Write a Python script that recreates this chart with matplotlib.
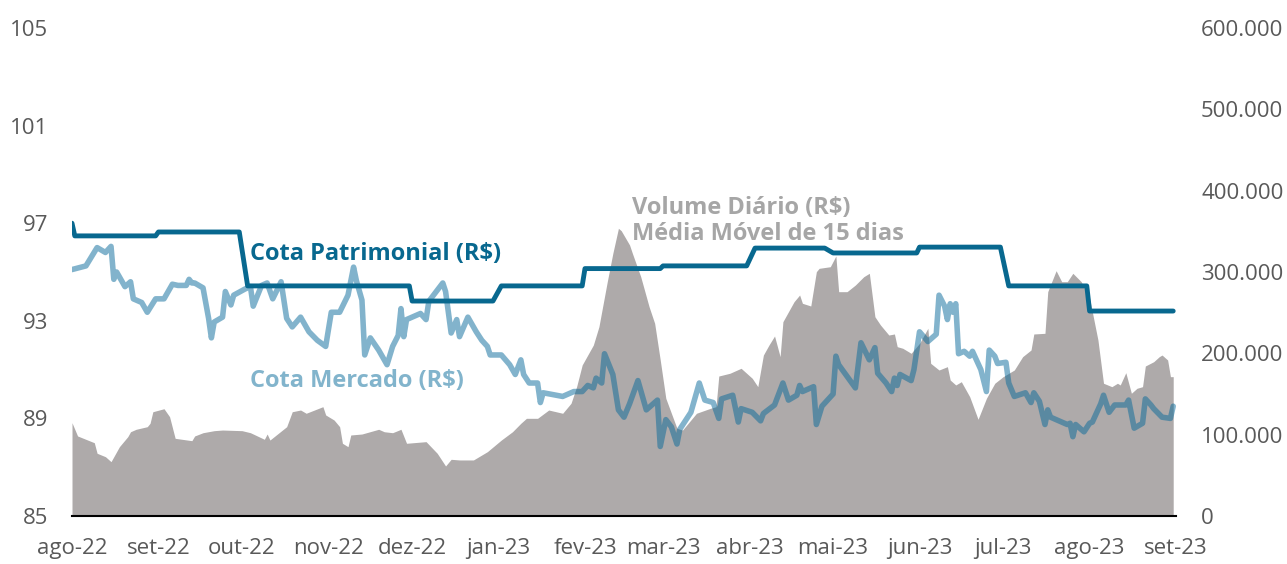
import matplotlib
matplotlib.use("Agg")
import matplotlib.pyplot as plt
import matplotlib.ticker as mticker
import numpy as np
import pandas as pd

plt.rcParams['font.family'] = ['Open Sans', 'DejaVu Sans']

meses = ['ago-22', 'set-22', 'out-22', 'nov-22', 'dez-22', 'jan-23', 'fev-23',
         'mar-23', 'abr-23', 'mai-23', 'jun-23', 'jul-23', 'ago-23', 'set-23']
meses_datas = pd.date_range('2022-08-01', '2023-09-01', freq='MS')

# Cota Patrimonial: valor de cada mes (ago-22 .. ago-23), primeiro dia em 97,0
pat_meses = pd.period_range('2022-08', '2023-08', freq='M')
pat_valor = [96.48, 96.64, 94.43, 94.43, 93.81, 94.43, 95.14,
             95.25, 95.98, 95.78, 96.02, 94.43, 93.40]
pat_primeiro_dia = ('2022-08-01', 97.0)

# Cota Mercado (R$)
merc_datas = [
    '2022-08-01', '2022-08-06', '2022-08-10', '2022-08-13', '2022-08-15', '2022-08-16',
    '2022-08-17', '2022-08-20', '2022-08-22', '2022-08-23', '2022-08-26', '2022-08-28',
    '2022-08-31', '2022-09-03', '2022-09-06', '2022-09-08', '2022-09-11', '2022-09-12',
    '2022-09-13', '2022-09-14', '2022-09-17', '2022-09-19', '2022-09-20', '2022-09-21',
    '2022-09-24', '2022-09-25', '2022-09-27', '2022-09-28', '2022-10-02', '2022-10-04',
    '2022-10-05', '2022-10-08', '2022-10-10', '2022-10-12', '2022-10-15', '2022-10-17',
    '2022-10-19', '2022-10-22', '2022-10-25', '2022-10-28', '2022-10-31', '2022-11-02',
    '2022-11-05', '2022-11-08', '2022-11-10', '2022-11-11', '2022-11-13', '2022-11-14',
    '2022-11-16', '2022-11-19', '2022-11-22', '2022-11-24', '2022-11-26', '2022-11-27',
    '2022-11-28', '2022-11-29', '2022-12-02', '2022-12-04', '2022-12-06', '2022-12-07',
    '2022-12-12', '2022-12-13', '2022-12-15', '2022-12-17', '2022-12-18', '2022-12-21',
    '2022-12-24', '2022-12-26', '2022-12-28', '2022-12-29', '2023-01-02', '2023-01-05',
    '2023-01-07', '2023-01-09', '2023-01-10', '2023-01-12', '2023-01-15', '2023-01-16',
    '2023-01-17', '2023-01-24', '2023-01-28', '2023-01-31', '2023-02-02', '2023-02-04',
    '2023-02-05', '2023-02-07', '2023-02-08', '2023-02-11', '2023-02-13', '2023-02-15',
    '2023-02-17', '2023-02-20', '2023-02-23', '2023-02-27', '2023-02-28', '2023-03-02',
    '2023-03-04', '2023-03-06', '2023-03-07', '2023-03-11', '2023-03-14', '2023-03-16',
    '2023-03-19', '2023-03-21', '2023-03-22', '2023-03-26', '2023-03-28', '2023-03-29',
    '2023-04-02', '2023-04-05', '2023-04-06', '2023-04-10', '2023-04-13', '2023-04-15',
    '2023-04-18', '2023-04-19', '2023-04-20', '2023-04-24', '2023-04-25', '2023-04-27',
    '2023-05-01', '2023-05-02', '2023-05-03', '2023-05-09', '2023-05-11', '2023-05-14',
    '2023-05-16', '2023-05-17', '2023-05-20', '2023-05-22', '2023-05-23', '2023-05-24',
    '2023-05-25', '2023-05-29', '2023-05-30', '2023-06-01', '2023-06-04', '2023-06-07',
    '2023-06-08', '2023-06-10', '2023-06-11', '2023-06-12', '2023-06-13', '2023-06-14',
    '2023-06-15', '2023-06-17', '2023-06-19', '2023-06-20', '2023-06-23', '2023-06-25',
    '2023-06-26', '2023-06-28', '2023-06-29', '2023-07-02', '2023-07-03', '2023-07-05',
    '2023-07-09', '2023-07-11', '2023-07-12', '2023-07-14', '2023-07-16', '2023-07-17',
    '2023-07-18', '2023-07-22', '2023-07-24', '2023-07-25', '2023-07-26', '2023-07-27',
    '2023-07-30', '2023-08-01', '2023-08-02', '2023-08-05', '2023-08-06', '2023-08-08',
    '2023-08-10', '2023-08-14', '2023-08-15', '2023-08-17', '2023-08-20', '2023-08-21',
    '2023-08-23', '2023-08-24', '2023-08-27', '2023-08-30', '2023-08-31']
merc_valor = [
    95.10, 95.25, 96.00, 95.80, 96.05, 94.70, 95.00, 94.40, 94.60, 93.90, 93.75, 93.35,
    93.90, 93.90, 94.50, 94.45, 94.45, 94.70, 94.55, 94.55, 94.35, 93.10, 92.30, 92.95,
    93.15, 94.20, 93.65, 94.05, 94.30, 94.40, 93.60, 94.45, 94.55, 93.90, 94.60, 93.10,
    92.75, 93.15, 92.55, 92.20, 91.95, 93.35, 93.35, 94.05, 95.20, 94.65, 93.85, 91.60,
    92.30, 91.80, 91.20, 91.95, 92.40, 93.50, 92.35, 93.05, 93.20, 93.30, 93.05, 93.80,
    94.55, 94.20, 92.50, 93.05, 92.35, 93.15, 92.55, 92.20, 91.95, 91.60, 91.60, 91.20,
    90.80, 91.40, 90.80, 90.45, 90.45, 89.65, 90.05, 89.90, 90.10, 90.10, 90.35, 90.25,
    90.65, 90.45, 91.65, 90.80, 89.35, 89.05, 89.60, 90.55, 89.35, 89.75, 87.85, 88.95,
    88.65, 87.95, 88.55, 89.25, 90.45, 89.75, 89.65, 89.00, 89.80, 89.95, 88.85, 89.40,
    89.25, 88.90, 89.20, 89.55, 90.45, 89.75, 89.95, 90.35, 90.10, 90.30, 88.75, 89.50,
    90.00, 91.55, 91.20, 90.25, 92.10, 91.40, 91.90, 90.85, 90.45, 90.10, 90.65, 90.35,
    90.80, 90.55, 91.00, 92.55, 92.15, 92.45, 94.05, 93.60, 93.05, 93.70, 93.35, 93.70,
    91.65, 91.75, 91.55, 91.75, 91.00, 90.10, 91.80, 91.55, 91.25, 91.30, 90.45, 89.90,
    90.05, 89.65, 90.05, 89.70, 88.75, 89.35, 89.05, 88.85, 88.75, 88.80, 88.25, 88.75,
    88.45, 88.80, 88.85, 89.60, 89.95, 89.25, 89.55, 89.55, 89.75, 88.60, 88.80, 89.80,
    89.55, 89.40, 89.05, 89.00, 89.50]

# Volume Diario (R$) - media movel de 15 dias
vol_datas = [
    '2022-08-01', '2022-08-03', '2022-08-09', '2022-08-10', '2022-08-13', '2022-08-15',
    '2022-08-16', '2022-08-18', '2022-08-21', '2022-08-22', '2022-08-24', '2022-08-28',
    '2022-08-29', '2022-08-30', '2022-09-03', '2022-09-05', '2022-09-07', '2022-09-13',
    '2022-09-14', '2022-09-17', '2022-09-21', '2022-09-24', '2022-10-01', '2022-10-04',
    '2022-10-09', '2022-10-10', '2022-10-11', '2022-10-17', '2022-10-19', '2022-10-22',
    '2022-10-24', '2022-10-30', '2022-10-31', '2022-11-03', '2022-11-05', '2022-11-06',
    '2022-11-08', '2022-11-09', '2022-11-13', '2022-11-19', '2022-11-21', '2022-11-24',
    '2022-11-27', '2022-11-29', '2022-12-06', '2022-12-10', '2022-12-13', '2022-12-15',
    '2022-12-18', '2022-12-23', '2022-12-28', '2023-01-02', '2023-01-06', '2023-01-09',
    '2023-01-11', '2023-01-15', '2023-01-19', '2023-01-24', '2023-01-27', '2023-01-29',
    '2023-01-31', '2023-02-04', '2023-02-06', '2023-02-09', '2023-02-11', '2023-02-13',
    '2023-02-14', '2023-02-17', '2023-02-18', '2023-02-21', '2023-02-24', '2023-02-26',
    '2023-02-28', '2023-03-02', '2023-03-06', '2023-03-08', '2023-03-13', '2023-03-18',
    '2023-03-20', '2023-03-21', '2023-03-25', '2023-03-29', '2023-04-02', '2023-04-04',
    '2023-04-06', '2023-04-08', '2023-04-10', '2023-04-12', '2023-04-13', '2023-04-17',
    '2023-04-19', '2023-04-20', '2023-04-23', '2023-04-25', '2023-04-26', '2023-04-30',
    '2023-05-02', '2023-05-03', '2023-05-06', '2023-05-09', '2023-05-12', '2023-05-14',
    '2023-05-16', '2023-05-18', '2023-05-21', '2023-05-23', '2023-05-24', '2023-05-26',
    '2023-05-29', '2023-06-01', '2023-06-04', '2023-06-05', '2023-06-08', '2023-06-11',
    '2023-06-12', '2023-06-14', '2023-06-16', '2023-06-19', '2023-06-22', '2023-06-25',
    '2023-06-28', '2023-07-01', '2023-07-05', '2023-07-08', '2023-07-11', '2023-07-12',
    '2023-07-16', '2023-07-17', '2023-07-20', '2023-07-22', '2023-07-24', '2023-07-26',
    '2023-07-29', '2023-08-01', '2023-08-04', '2023-08-06', '2023-08-09', '2023-08-11',
    '2023-08-12', '2023-08-14', '2023-08-16', '2023-08-18', '2023-08-20', '2023-08-21',
    '2023-08-24', '2023-08-26', '2023-08-27', '2023-08-29', '2023-08-30', '2023-08-31']
vol_mil = [
    114.7, 98.4, 90.1, 77.1, 72.9, 66.8, 72.9, 85.2, 97.5, 103.6, 106.6, 109.8,
    114.0, 128.2, 131.9, 122.1, 95.5, 92.6, 98.4, 102.4, 104.9, 105.7, 104.9, 102.4,
    94.3, 100.8, 93.4, 109.8, 128.2, 130.3, 126.3, 134.4, 124.2, 118.0, 109.8, 89.4,
    85.2, 99.6, 100.8, 106.6, 103.6, 102.4, 106.6, 89.4, 91.4, 77.1, 61.5, 69.7,
    68.9, 68.9, 79.1, 93.4, 103.6, 114.0, 120.1, 120.1, 130.3, 126.3, 138.6, 159.0,
    185.7, 210.2, 232.7, 288.1, 323.0, 353.7, 350.8, 333.2, 323.0, 294.2, 257.3, 236.9,
    191.8, 144.7, 107.8, 105.7, 126.3, 132.4, 134.4, 172.1, 175.5, 181.6, 169.3, 159.0,
    197.9, 210.2, 221.3, 195.9, 238.9, 263.5, 271.7, 261.5, 258.2, 300.4, 304.5, 306.5,
    319.7, 275.8, 275.8, 284.0, 294.2, 298.4, 245.0, 234.8, 222.5, 223.8, 208.2, 206.2,
    200.0, 212.3, 230.8, 187.7, 179.5, 183.6, 167.2, 161.1, 165.1, 146.7, 118.9, 144.7,
    163.2, 171.3, 179.5, 195.9, 204.1, 223.8, 224.6, 275.8, 301.6, 288.1, 288.1, 298.4,
    288.1, 267.7, 216.4, 163.2, 159.0, 163.2, 161.1, 176.2, 150.9, 157.0, 159.0, 184.4,
    189.7, 195.9, 197.9, 191.8, 171.3, 171.3]

esq_ticks = [85, 89, 93, 97, 101, 105]
dir_ticks = [0, 100000, 200000, 300000, 400000, 500000, 600000]

cor_pat = '#08688f'
cor_merc = '#07699a'
cor_vol = '#aeaaaa'
cor_texto = '#595959'

# serie patrimonial: primeiro e ultimo dia util de cada mes
pat_x = [pd.Timestamp(pat_primeiro_dia[0])]
pat_y = [pat_primeiro_dia[1]]
for per, v in zip(pat_meses, pat_valor):
    dias = pd.bdate_range(per.start_time, per.end_time.normalize())
    ini = dias[0] if per != pat_meses[0] else dias[1]
    pat_x += [ini, dias[-1]]
    pat_y += [v, v]

fig = plt.figure(figsize=(12.87, 5.64), dpi=100)
ax = fig.add_axes([72 / 1287, 48 / 564, 1104 / 1287, 488 / 564])
ax2 = ax.twinx()

ax2.fill_between(pd.to_datetime(vol_datas), np.array(vol_mil) * 1000, 0,
                 color=cor_vol, linewidth=0)
ax.plot(pd.to_datetime(merc_datas), merc_valor, color=cor_merc, alpha=0.5,
        lw=4.0, solid_joinstyle='round', solid_capstyle='round')
ax.plot(pat_x, pat_y, color=cor_pat, lw=3.5, solid_joinstyle='round',
        solid_capstyle='round')

ax.set_zorder(ax2.get_zorder() + 1)
ax.patch.set_visible(False)

ax.set_xlim(meses_datas[0], meses_datas[-1])
ax.set_ylim(85, 105)
ax2.set_ylim(0, 600000)
ax.set_yticks(esq_ticks)
ax2.set_yticks(dir_ticks)
ax2.yaxis.set_major_formatter(mticker.FuncFormatter(
    lambda v, p: f'{int(v):,}'.replace(',', '.')))
ax.set_xticks(meses_datas)
ax.set_xticklabels(meses)

for a in (ax, ax2):
    for s in ('top', 'left', 'right', 'bottom'):
        a.spines[s].set_visible(False)
    a.tick_params(length=0, labelsize=16, labelcolor=cor_texto)
ax.spines['bottom'].set_visible(True)
ax.spines['bottom'].set_linewidth(1.5)
ax.spines['bottom'].set_color('black')
ax.tick_params(axis='y', pad=17)
ax.tick_params(axis='x', pad=16)
ax2.tick_params(axis='y', pad=18)

ax.text(pd.Timestamp('2022-10-04'), 95.75, 'Cota Patrimonial (R$)', color=cor_pat,
        fontsize=17, fontweight='bold', va='center', ha='left')
ax.text(pd.Timestamp('2022-10-04'), 90.55, 'Cota Mercado (R$)', color='#82b4cc',
        fontsize=17, fontweight='bold', va='center', ha='left')
ax.text(pd.Timestamp('2023-02-18'), 97.1, 'Volume Diário (R$)\nMédia Móvel de 15 dias',
        color='#a6a6a6', fontsize=17, fontweight='bold', va='center', ha='left',
        linespacing=1.1)

fig.savefig('out.png', dpi=100)
